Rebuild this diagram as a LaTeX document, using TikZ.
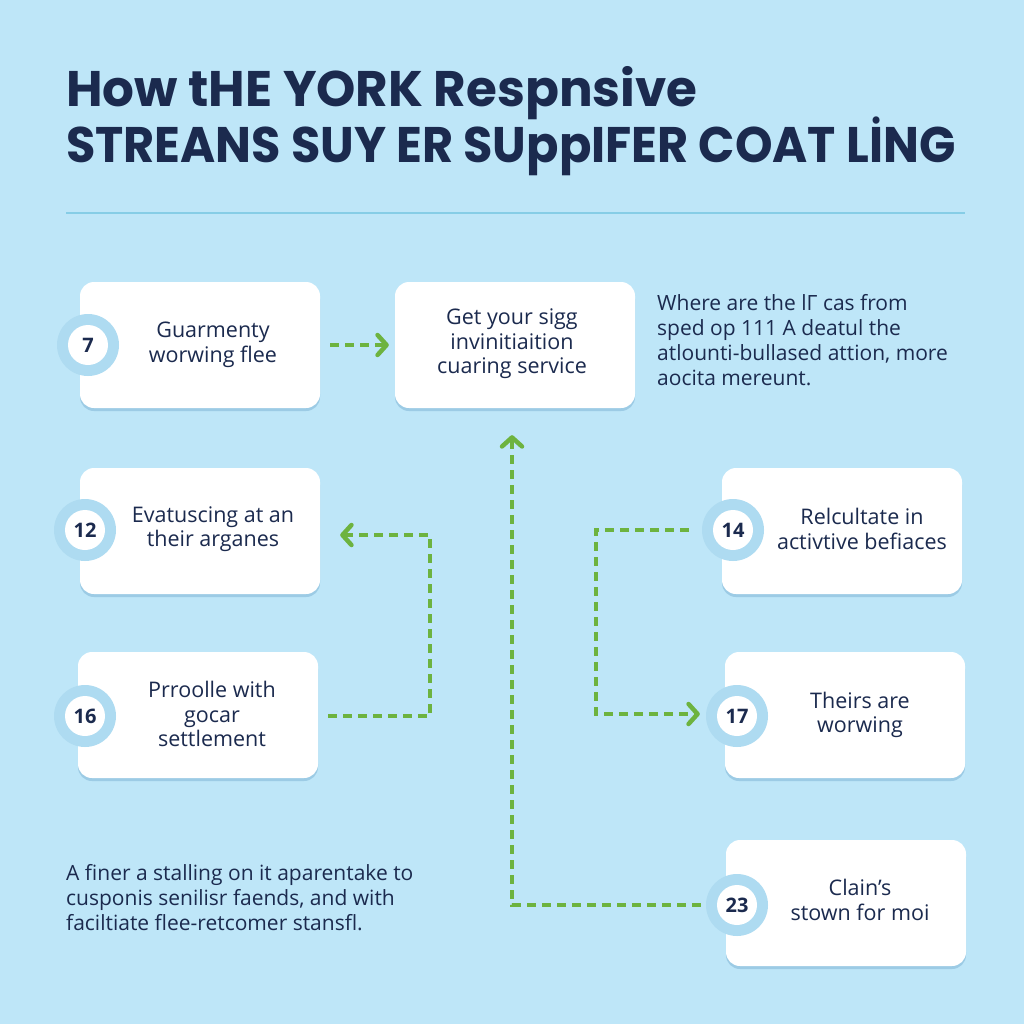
\documentclass[tikz,border=0pt]{standalone}
\usepackage{fontspec}
\setmainfont{Open Sans}
\newfontfamily\titlefont{Poppins}
\usetikzlibrary{arrows.meta,calc}
\definecolor{bg}{HTML}{BEE6F8}
\definecolor{navy}{HTML}{1B2A4E}
\definecolor{ringc}{HTML}{AEDBF1}
\definecolor{shadowc}{HTML}{9CCBE5}
\definecolor{flowc}{HTML}{6DB33F}
\definecolor{rulec}{HTML}{86CDE6}
\tikzset{
  card/.style={fill=white, rounded corners=14pt, minimum width=240pt, minimum height=126pt, inner sep=0pt},
  ring/.style={circle, fill=ringc, minimum size=62pt, inner sep=0pt},
  numc/.style={circle, fill=white, minimum size=40pt, inner sep=0pt, text=navy, font=\fontsize{20}{20}\selectfont\bfseries},
  cardtext/.style={text=navy, align=center, font=\fontsize{21.5}{24.5}\selectfont},
  para/.style={text=navy, align=left, anchor=north west, inner sep=0pt, font=\fontsize{21}{25}\selectfont},
  titletext/.style={anchor=base west, inner sep=0pt, text=navy, font=\titlefont\bfseries\fontsize{50}{50}\selectfont},
  flow/.style={draw=flowc, line width=4.5pt, dash pattern=on 9pt off 6pt, -{Straight Barb[length=9pt,width=20pt,line width=4.5pt,round]}}
}
\begin{document}
\begin{tikzpicture}[x=1pt,y=-1pt]
\fill[bg] (0,0) rectangle (1024,1024);
\useasboundingbox (0,0) rectangle (1024,1024);

% title
\node[titletext] (t1) at (66,107) {How tHE YORK Respnsive};
\node[titletext] (t2) at (66,163) {\scalebox{0.955}[1]{STREANS SUY ER SUppIFER COAT LİNG}};
\draw[rulec, line width=2pt] (66,213) -- (965,213);

% shadows
\foreach \x/\y in {200/345, 515/345, 200/531, 198/715, 842/531, 845/715, 846/903}{
  \fill[shadowc, rounded corners=14pt] (\x-120,\y-60) rectangle (\x+120,\y+66);
}
% cards
\node[card] (b7) at (200,345) {};
\node[card] (get) at (515,345) {};
\node[card] (b12) at (200,531) {};
\node[card] (b16) at (198,715) {};
\node[card] (b14) at (842,531) {};
\node[card] (b17) at (845,715) {};
\node[card] (b23) at (846,903) {};

% number circles
\node[ring] (r7) at (88,345) {};
\node[numc] (n7) at (88,345) {7};
\node[ring] (r12) at (85,530) {};
\node[numc] (n12) at (85,530) {12};
\node[ring] (r16) at (85,716) {};
\node[numc] (n16) at (85,716) {16};
\node[ring] (r14) at (733,530) {};
\node[numc] (n14) at (733,530) {14};
\node[ring] (r17) at (737,716) {};
\node[numc] (n17) at (737,716) {17};
\node[ring] (r23) at (737,905) {};
\node[numc] (n23) at (737,905) {23};

% card texts
\node[cardtext] (x7) at (213,345) {Guarmenty\\worwing flee};
\node[cardtext] (xget) at (512,344) {Get your sigg\\invinitiaition\\cuaring service};
\node[cardtext] (x12) at (213,529) {Evatuscing at an\\their arganes};
\node[cardtext] (x16) at (212,714) {Prroolle with\\gocar\\settlement};
\node[cardtext] (x14) at (862,529) {Relcultate in\\activtive befiaces};
\node[cardtext] (x17) at (860,715) {Theirs are\\worwing};
\node[cardtext] (x23) at (860,900) {Clain’s\\stown for moi};

% paragraphs
\node[para] (d1) at (657,294) {Where are the lΓ cas from\\sped op 111 A deatul the\\atlounti-bullased attion, more\\aocita mereunt.};
\node[para] (d2) at (66,864) {A finer a stalling on it aparentake to\\cusponis senilisr faends, and with\\faciltiate flee-retcomer stansfl.};

% connectors
\coordinate (k1) at (430,716);
\coordinate (k2) at (430,535);
\coordinate (k3) at (512,905);
\coordinate (k4) at (596,530);
\coordinate (k5) at (596,714);
\draw[flow, shorten <=10pt, shorten >=6pt] (b7.east) -- (get.west);
\draw[flow, shorten <=10pt, shorten >=20pt] (b16.east |- k1) -- (k1) -- (k2) -- (b12.east |- k2);
\draw[flow, shorten <=5pt, shorten >=27pt] (r23.west) -- (k3) -- (get.south -| k3);
\draw[flow, shorten <=13pt, shorten >=6pt] (r14.west) -- (k4) -- (k5) -- (r17.west |- k5);
\end{tikzpicture}
\end{document}
